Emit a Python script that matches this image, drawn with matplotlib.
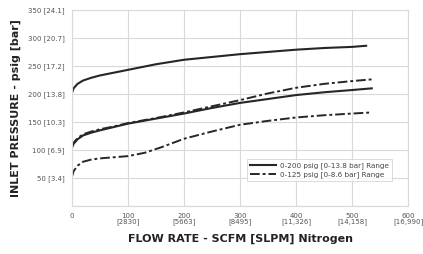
import numpy as np
import matplotlib.pyplot as plt

# 0-200 psig range: upper and lower curves (solid)
hi_x = [0, 3, 10, 20, 35, 50, 75, 100, 150, 200, 250, 300, 350, 400, 450, 500, 525]
hi_y = [202, 210, 218, 224, 229, 233, 238, 243, 253, 261, 266, 271, 275, 279, 282, 284, 286]
lo_x = [0, 3, 10, 20, 35, 50, 75, 100, 150, 200, 250, 300, 350, 400, 450, 500, 535]
lo_y = [104, 111, 119, 126, 131, 135, 141, 147, 156, 165, 175, 184, 191, 198, 203, 207, 210]

# 0-125 psig range: upper and lower curves (dash-dot)
hi2_x = [0, 3, 10, 20, 35, 50, 75, 100, 150, 200, 250, 300, 350, 400, 450, 500, 535]
hi2_y = [106, 113, 121, 128, 133, 137, 142, 148, 157, 167, 178, 189, 201, 211, 218, 223, 226]
lo2_x = [0, 3, 10, 20, 35, 50, 75, 100, 130, 160, 200, 250, 300, 350, 400, 450, 500, 535]
lo2_y = [52, 62, 72, 79, 83, 85, 87, 89, 95, 105, 120, 133, 145, 152, 158, 162, 165, 167]

x_ticks = [0, 100, 200, 300, 400, 500, 600]
x_labels = ["0", "100\n[2830]", "200\n[5663]", "300\n[8495]", "400\n[11,326]", "500\n[14,158]", "600\n[16,990]"]
y_ticks = [0, 50, 100, 150, 200, 250, 300, 350]
y_labels = ["", "50 [3.4]", "100 [6.9]", "150 [10.3]", "200 [13.8]", "250 [17.2]", "300 [20.7]", "350 [24.1]"]

fig = plt.figure(figsize=(4.23, 2.54), dpi=100)
ax = fig.add_axes([0.170, 0.189, 0.795, 0.772])

line_col = "#262626"
dd = (0, (5, 1.5, 1.5, 1.5))
ax.plot(hi_x, hi_y, color=line_col, lw=1.5, label="0-200 psig [0-13.8 bar] Range")
ax.plot(lo_x, lo_y, color=line_col, lw=1.5)
ax.plot(hi2_x, hi2_y, color=line_col, lw=1.4, linestyle=dd, label="0-125 psig [0-8.6 bar] Range")
ax.plot(lo2_x, lo2_y, color=line_col, lw=1.4, linestyle=dd)

ax.set_xlim(0, 600)
ax.set_ylim(0, 350)
ax.set_xticks(x_ticks)
ax.set_xticklabels(x_labels, fontsize=5, color="#555555", linespacing=0.9)
ax.set_yticks(y_ticks)
ax.set_yticklabels(y_labels, fontsize=5, color="#555555")
ax.tick_params(length=0, pad=5)
ax.grid(True, color="#d9d9d9", lw=0.8)
for s in ax.spines.values():
    s.set_color("#d9d9d9")
    s.set_linewidth(0.8)

ax.set_xlabel("FLOW RATE - SCFM [SLPM] Nitrogen", fontsize=8, fontweight="bold", color="#222222", labelpad=6)
ax.set_ylabel("INLET PRESSURE - psig [bar]", fontsize=8, fontweight="bold", color="#222222", labelpad=5)

leg = ax.legend(loc="lower right", bbox_to_anchor=(0.962, 0.11), fontsize=5.2, frameon=True,
                fancybox=False, edgecolor="#cccccc", handlelength=3.6, borderpad=0.4,
                labelspacing=0.3, handletextpad=0.5)
leg.get_frame().set_linewidth(0.6)
for t in leg.get_texts():
    t.set_color("#444444")

fig.savefig("out.png", dpi=100)
